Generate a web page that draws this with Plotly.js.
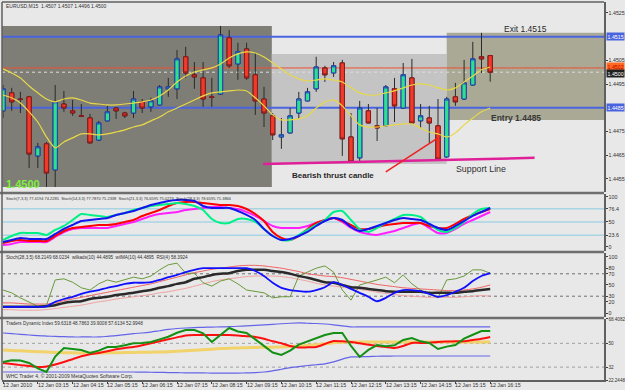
<!DOCTYPE html>
<html>
<head>
<meta charset="utf-8">
<script src="https://cdn.plot.ly/plotly-3.0.1.min.js"></script>
<style>
html,body{margin:0;padding:0;background:#e8e8e8;}
#chart{width:625px;height:390px;}
</style>
</head>
<body>
<div id="chart"></div>
<script>
// ---------- DATA ----------
const barIndex = Array.from({length:57}, (_, i) => i);
const tickBars = [0,4,8,12,16,20,24,28,32,36,40,44,48,52,56];
const tickLabels = ["12 Jan 2010","12 Jan 03:15","12 Jan 04:15","12 Jan 05:15","12 Jan 06:15","12 Jan 07:15","12 Jan 08:15","12 Jan 09:15","12 Jan 10:15","12 Jan 11:15","12 Jan 12:15","12 Jan 13:15","12 Jan 14:15","12 Jan 15:15","12 Jan 16:15"];

const openP = [1.44837,1.44913,1.44887,1.44896,1.44647,1.44698,1.44588,1.44866,1.44837,1.44816,1.44807,1.44714,1.44795,1.44849,1.44828,1.44828,1.44875,1.44854,1.44862,1.4493,1.4493,1.45065,1.44989,1.44976,1.44896,1.44908,1.45145,1.45035,1.45098,1.44989,1.44887,1.44816,1.44727,1.44744,1.44828,1.44879,1.4493,1.45018,1.44997,1.45039,1.44727,1.44639,1.44837,1.44774,1.44774,1.4493,1.44849,1.44976,1.44795,1.44807,1.44774,1.44643,1.44896,1.44887,1.44946,1.45065,1.4507];
const highP = [1.44946,1.44934,1.44917,1.449,1.44702,1.44706,1.44946,1.44921,1.44883,1.44866,1.44824,1.44795,1.44858,1.44854,1.44833,1.44921,1.44887,1.44892,1.44946,1.44976,1.45094,1.45107,1.45043,1.45043,1.44976,1.45195,1.45178,1.45124,1.45124,1.45081,1.44938,1.44828,1.44807,1.44849,1.44917,1.44934,1.45065,1.45027,1.45043,1.45052,1.44828,1.44879,1.44866,1.44849,1.44946,1.44976,1.45039,1.45056,1.44866,1.44858,1.44887,1.44896,1.44955,1.45052,1.45128,1.45166,1.4507];
const lowP  = [1.44807,1.44837,1.44828,1.44596,1.44596,1.44516,1.44516,1.44833,1.44816,1.44811,1.447,1.4471,1.44793,1.44803,1.44807,1.44807,1.44828,1.44833,1.4486,1.44896,1.44887,1.44976,1.4493,1.44854,1.44854,1.44904,1.45018,1.44968,1.44968,1.4482,1.44769,1.44714,1.44677,1.44742,1.44803,1.44877,1.44917,1.44959,1.4498,1.44647,1.4462,1.44622,1.44784,1.4471,1.44772,1.4479,1.44847,1.44784,1.44765,1.44702,1.44632,1.44639,1.44858,1.44883,1.44944,1.44997,1.4496];
const closeP= [1.4493,1.44875,1.44885,1.44655,1.44685,1.44575,1.44875,1.44849,1.44828,1.44814,1.44702,1.44786,1.44833,1.44837,1.44816,1.44887,1.44849,1.44879,1.44938,1.44938,1.45056,1.44997,1.4498,1.44887,1.44894,1.45157,1.45027,1.45086,1.44976,1.44879,1.44828,1.44736,1.44736,1.44816,1.44887,1.44917,1.45022,1.44989,1.45027,1.44719,1.44622,1.44849,1.44786,1.44765,1.44938,1.44858,1.44989,1.44786,1.44816,1.44786,1.44634,1.44887,1.44875,1.44955,1.45056,1.45056,1.45];

const maUpper = [1.45014,1.44997,1.44976,1.44942,1.44913,1.44887,1.44875,1.44887,1.44892,1.44883,1.4487,1.44866,1.44862,1.44862,1.44866,1.4487,1.44875,1.44883,1.449,1.44925,1.44959,1.44984,1.45001,1.4501,1.45018,1.45035,1.4506,1.45077,1.45086,1.45081,1.45064,1.45039,1.45014,1.44989,1.44972,1.44963,1.44967,1.44972,1.44967,1.44959,1.44934,1.44913,1.44904,1.44904,1.44913,1.44921,1.44934,1.44946,1.44951,1.44946,1.44934,1.44925,1.44934,1.44959,1.44984,1.4501,1.45022];
const maLower = [1.44904,1.44892,1.4487,1.44833,1.4479,1.44727,1.44681,1.44706,1.44723,1.4474,1.4474,1.44736,1.4474,1.44748,1.44757,1.44769,1.44778,1.44795,1.44811,1.44833,1.44849,1.44866,1.44883,1.449,1.44913,1.44917,1.44921,1.44925,1.44921,1.44892,1.44858,1.4482,1.44799,1.44799,1.44803,1.44816,1.44849,1.44875,1.44883,1.44858,1.44816,1.44778,1.44769,1.44769,1.44774,1.44778,1.44782,1.44782,1.44765,1.44748,1.4474,1.44727,1.44744,1.44778,1.44807,1.44833,1.44849];

const priceTicks = [1.4455,1.4465,1.4475,1.4495,1.4505,1.4525];
const exitLevel = 1.4515, entryLevel = 1.4485, redLevel = 1.45018, bidLevel = 1.4500;
const rangeBox = {x0:-0.2, x1:30.9, y0:1.44516, y1:1.45195};
const consolBox = {x0:30.9, x1:51.0, y0:1.44613, y1:1.45077};
const targetBox = {x0:51.0, x1:69.2, y0:1.44799, y1:1.45166};
const supportLine = {x0:29.9, y0:1.44613, x1:61.1, y1:1.44639};
const pointerLine = {x0:44.0, y0:1.4458, x1:50.0, y1:1.44723};

// Stochastics panel
const stoch7  = [14,22,28,28,28,24,34,42,54,66,64,62,60,64,68,74,78,82,84,86,88,86,82,74,56,48,48,56,56,50,36,22,14,14,24,34,44,54,70,72,54,36,30,38,48,56,64,64,60,46,34,30,38,50,66,76,78];
const stoch14 = [10,14,18,16,16,16,26,36,44,52,54,56,58,64,68,72,78,84,88,92,94,94,92,82,78,78,78,72,64,54,36,22,14,16,22,30,42,52,58,54,40,32,36,42,48,54,58,56,54,46,38,34,42,52,62,70,78];
const stoch21 = [8,12,14,12,12,12,22,32,38,40,42,44,44,46,50,54,62,68,74,82,88,90,90,88,86,84,84,82,76,66,52,30,18,14,22,36,48,54,58,52,44,36,36,40,44,46,48,48,48,42,38,38,46,56,64,70,76];
const stoch28 = [4,6,10,10,10,10,20,30,36,38,38,38,38,42,46,50,56,62,66,68,70,74,76,78,80,80,78,76,70,62,52,42,38,38,38,42,48,54,58,50,38,30,26,24,28,32,38,44,48,38,28,28,36,46,54,62,70];
const stochLevels = [23.6,50,76.4];

// Panel 3
const stochSlow = [11,11,11,11,11,12,20,25,29,34,38,41,45,48,52,54,54,55,59,64,68,73,77,80,80,80,80,80,80,75,66,54,45,41,39,38,41,46,55,50,43,36,29,21,27,36,41,41,39,34,29,32,38,45,57,66,71];
const stochMA   = [11,11,11,11,11,12,14,18,20,21,25,27,29,32,34,36,39,41,45,48,52,55,61,64,68,70,71,75,77,77,77,75,73,70,66,63,59,55,54,50,46,45,43,41,39,38,38,38,38,36,36,36,36,38,39,41,43];
const rsi4      = [41,36,27,20,12,14,59,61,55,45,41,52,59,55,59,64,61,66,77,86,89,71,71,54,48,57,61,52,41,38,36,27,29,29,66,73,80,84,73,41,23,50,54,59,64,54,68,52,41,34,27,59,61,66,77,77,71];
const bandHigh  = [18,18,17,16,16,16,18,22,25,28,31,34,37,40,43,46,49,52,56,60,64,68,72,75,78,80,82,84,85,85,84,82,80,77,74,70,68,66,65,63,60,57,54,51,49,47,45,44,43,42,41,40,40,41,43,46,50];
const bandLow   = [6,6,5,5,5,6,8,10,12,14,17,20,22,25,27,29,31,33,36,38,41,44,48,52,56,59,61,63,65,66,66,66,65,63,60,57,53,50,48,46,44,42,40,37,35,33,31,30,29,28,28,28,28,29,30,31,30];
const p3Levels = [30,70];

// Traders Dynamic Index
const tdiUpper = [57.8,57.3,56.8,56.3,55.8,55.5,55.2,55.0,54.8,54.8,54.8,54.8,55.3,55.8,56.6,57.4,57.8,58.5,59.5,60.5,61.2,61.6,61.9,62.1,62.3,62.4,62.6,62.9,63.2,63.6,64.0,64.4,64.8,65.2,65.4,65.2,65.0,64.6,64.0,63.2,62.4,62.4,62.4,62.4,62.4,62.4,62.4,62.4,62.4,62.4,62.4,62.4,62.4,62.4,62.4,62.4,62.4];
const tdiLower = [28.3,28.3,28.3,28.3,28.3,28.3,28.3,28.3,28.3,28.3,28.3,28.3,28.3,28.3,28.3,28.3,28.2,28.1,28.0,27.9,27.8,27.7,27.6,27.6,27.5,27.5,27.5,27.5,27.6,27.9,28.3,29.2,30.4,31.6,32.4,33.2,33.8,34.5,35.9,38.0,39.7,39.8,40.0,40.2,40.3,40.4,40.4,40.4,40.4,40.4,40.4,40.4,40.4,40.4,40.4,40.4,40.4];
const tdiBase  = [44.9,44.6,44.3,44.0,43.7,43.4,43.1,42.9,42.8,42.7,42.7,42.7,42.8,42.9,43.0,43.1,43.2,43.3,43.4,43.6,44.0,44.4,44.8,45.2,45.6,46.0,46.3,46.5,46.7,46.9,47.0,47.1,47.2,47.5,48.0,48.5,49.0,49.6,50.4,50.9,51.0,51.0,51.0,51.0,51.0,51.0,51.0,51.0,51.0,51.0,51.0,51.0,51.0,51.0,51.0,51.0,51.0];
const tdiSignal= [35.1,34.3,33.5,32.8,32.1,32.5,34.0,35.9,38.0,40.2,41.8,42.7,44.0,45.5,46.5,47.2,48.5,50.0,51.6,53.0,54.5,56.0,56.3,56.3,56.3,56.3,56.3,56.0,55.4,54.8,53.5,51.5,50.0,48.0,46.8,47.0,47.2,49.5,51.8,51.5,51.0,50.0,49.0,48.0,47.2,46.5,48.0,50.3,50.3,50.5,51.0,51.3,51.5,51.5,52.5,53.5,54.8];
const tdiPrice = [35.9,37.2,37.0,35.1,31.0,28.3,40.0,46.5,45.7,44.9,42.7,44.5,47.2,47.2,48.5,50.0,50.3,51.0,53.0,55.0,58.0,60.1,60.1,57.5,51.0,56.0,61.6,59.0,57.8,53.0,48.0,43.0,41.2,44.5,49.0,51.5,54.0,56.3,57.8,57.8,48.0,39.7,45.0,48.7,47.8,48.5,52.5,54.0,51.5,50.3,45.7,47.5,48.7,53.5,56.5,59.3,59.3];
const tdiTicks = [22.2448,32,50,68.4082];
const tdiLevels = [32,50];

// ---------- TRACES ----------
const X0 = -0.115, X1 = 69.08;
const bodyHigh = openP.map((o,i)=>Math.max(o,closeP[i]));
const bodyLow  = openP.map((o,i)=>Math.min(o,closeP[i]));
const lineTr = (y, ya, color, w) => ({type:'scatter', mode:'lines', x:barIndex, y:y, yaxis:ya, xaxis:'x',
  line:{color:color, width:w, shape:'spline', smoothing:0.6}, hoverinfo:'skip', showlegend:false});

const traces = [
  {type:'candlestick', x:barIndex, open:openP, high:highP, low:lowP, close:closeP, xaxis:'x', yaxis:'y',
   increasing:{line:{color:'#2a2a2a', width:1}, fillcolor:'#2ee08a'},
   decreasing:{line:{color:'#2a2a2a', width:1}, fillcolor:'#f23a2a'}, whiskerwidth:0, showlegend:false, hoverinfo:'skip'},
  {type:'candlestick', x:barIndex, open:openP, high:bodyHigh, low:bodyLow, close:closeP, xaxis:'x', yaxis:'y',
   increasing:{line:{color:'#2040c0', width:1}, fillcolor:'#2ee08a'},
   decreasing:{line:{color:'#8a1a1a', width:1}, fillcolor:'#f23a2a'}, whiskerwidth:0, showlegend:false, hoverinfo:'skip'},
  lineTr(maUpper,'y','#e8d848',1.2),
  lineTr(maLower,'y','#e8d848',1.2),

  lineTr(stoch28,'y2','#ff20ff',2),
  lineTr(stoch21,'y2','#ff0000',2),
  lineTr(stoch7,'y2','#00f088',2),
  lineTr(stoch14,'y2','#1414f0',2),

  lineTr(bandHigh,'y3','#f06060',1),
  lineTr(bandLow,'y3','#f0a0a0',1),
  {type:'scatter', mode:'lines', x:barIndex, y:rsi4, yaxis:'y3', xaxis:'x', line:{color:'#6a9a3a', width:1}, hoverinfo:'skip', showlegend:false},
  lineTr(stochMA,'y3','#2a2a2a',2.5),
  lineTr(stochSlow,'y3','#1010ff',1.8),

  lineTr(tdiUpper,'y4','#6464e8',1.2),
  lineTr(tdiLower,'y4','#6464e8',1.2),
  lineTr(tdiBase,'y4','#f2d26a',3),
  lineTr(tdiSignal,'y4','#ff1010',2),
  {type:'scatter', mode:'lines', x:barIndex, y:tdiPrice, yaxis:'y4', xaxis:'x', line:{color:'#149014', width:2}, hoverinfo:'skip', showlegend:false}
];

// ---------- SHAPES ----------
const shapes = [];
const rect = (b, fill) => shapes.push({type:'rect', xref:'x', yref:'y', x0:b.x0, x1:b.x1, y0:b.y0, y1:b.y1, fillcolor:fill, line:{width:0}, layer:'below'});
rect(rangeBox, '#7e7e76');
rect(consolBox, '#c4c4c4');
rect(targetBox, '#a9a996');
const hline = (lvl, ya, color, w, dash) => shapes.push({type:'line', xref:'x', yref:ya, x0:X0, x1:X1, y0:lvl, y1:lvl, line:{color:color, width:w, dash:dash||'solid'}, layer:'below'});
hline(exitLevel,'y','#4a64e0',2);
hline(entryLevel,'y','#4a64e0',2);
hline(redLevel,'y','#f05030',1);
hline(bidLevel,'y','#dcdcdc',1,'dot');
stochLevels.forEach(l=>hline(l,'y2','#a8d4e4',1.5));
p3Levels.forEach(l=>hline(l,'y3','#707070',1,'dot'));
tdiLevels.forEach(l=>hline(l,'y4','#a0a0a0',1,'dot'));
shapes.push({type:'line', xref:'x', yref:'y', x0:supportLine.x0, y0:supportLine.y0, x1:supportLine.x1, y1:supportLine.y1, line:{color:'#e0209a', width:2.5}});
shapes.push({type:'line', xref:'x', yref:'y', x0:pointerLine.x0, y0:pointerLine.y0, x1:pointerLine.x1, y1:pointerLine.y1, line:{color:'#f02020', width:1.5}});
// panel separators / frame
[0.4947,0.3386,0.164].forEach(p=>shapes.push({type:'line', xref:'paper', yref:'paper', x0:-0.01, x1:1, y0:p, y1:p, line:{color:'#6e6e6e', width:2.5}}));
shapes.push({type:'line', xref:'paper', yref:'paper', x0:0, x1:0, y0:0, y1:1, line:{color:'#606060', width:1.5}});
shapes.push({type:'line', xref:'paper', yref:'paper', x0:0, x1:1, y0:1, y1:1, line:{color:'#606060', width:1.5}});

// ---------- ANNOTATIONS ----------
const F = 'Liberation Sans, Arial, sans-serif';
const sm = (s) => ({family:F, size:s, color:'#303030'});
const ann = [];
const txt = (x, y, t, font, xa) => ann.push({xref:'paper', yref:'paper', x:x, y:y, text:t, showarrow:false, xanchor:xa||'left', yanchor:'middle', font:font});
txt(0.004, 0.989, 'EURUSD,M15  1.4507 1.4507 1.4496 1.4500', sm(5));
txt(0.003, 0.479, 'Stoch(7,3,3) 77.4194 74.2285  Stoch(14,3,3) 77.7870 75.2338  Stoch(21,3,3) 76.6595 75.0273  Stoch(28,3,3) 78.6595 71.3866', sm(4));
txt(0.003, 0.323, 'Stoch(28,3,5) 68.2149 68.0234  wilkads(10) 44.4895  wilMA(10) 44.4895  RSI(4) 58.3924', sm(4.6));
txt(0.003, 0.150, 'Traders Dynamic Index 59.6318 48.7863 39.9008 57.6134 52.9948', sm(4.6));
txt(0.003, 0.011, 'WHC Trader 4, © 2001-2009 MetaQuotes Software Corp.', sm(5));

txt(0.869, 0.928, 'Exit 1.4515', {family:F, size:8.5, color:'#282828'}, 'center');
txt(0.854, 0.693, '<b>Entry 1.4485</b>', {family:F, size:8.5, color:'#383838'}, 'center');
txt(0.550, 0.540, '<b>Bearish thrust candle</b>', {family:F, size:8, color:'#282828'}, 'center');
txt(0.796, 0.558, 'Support Line', {family:F, size:8.8, color:'#303030'}, 'center');
txt(0.003, 0.519, '<b>1.4500</b>', {family:F, size:11, color:'#80f040'}, 'left');

// axis boxes
const boxLbl = (lvl, t, bg, fg) => ann.push({xref:'paper', yref:'y', x:1.004, y:lvl, text:t, showarrow:false, xanchor:'left', yanchor:'middle',
  font:{family:F, size:5.3, color:fg}, bgcolor:bg, borderpad:0.5});
boxLbl(exitLevel, '1.4515', '#4a64e0', '#ffffff');
boxLbl(entryLevel, '1.4485', '#4a64e0', '#ffffff');
boxLbl(redLevel+0.00004, '1.4502', '#ff6a20', '#c00000');
boxLbl(bidLevel-0.00006, '1.4500', '#202020', '#ffffff');

// date labels
tickBars.forEach((b,i)=>ann.push({xref:'x', yref:'paper', x:b, y:-0.0135, text:tickLabels[i], showarrow:false, xanchor:'left', yanchor:'middle', xshift:-2, font:sm(5.3)}));

// ---------- LAYOUT ----------
const yBase = {side:'right', anchor:'x', showgrid:false, zeroline:false, ticks:'outside', ticklen:2, tickcolor:'#404040',
  tickfont:{family:F, size:5.3, color:'#303030'}, showline:true, linecolor:'#606060', linewidth:1.5, fixedrange:true};
const layout = {
  width:625, height:390,
  margin:{l:2, r:21, t:2, b:10, pad:0},
  paper_bgcolor:'#e8e8e8', plot_bgcolor:'#e8e8e8',
  showlegend:false,
  xaxis:{domain:[0,1], range:[X0,X1], anchor:'y4', showgrid:false, zeroline:false, tickvals:tickBars, showticklabels:false,
    ticks:'outside', ticklen:2, tickcolor:'#404040', showline:true, linecolor:'#606060', linewidth:1.5, rangeslider:{visible:false}, fixedrange:true},
  yaxis: Object.assign({}, yBase, {domain:[0.4974,1], range:[1.44495,1.45296], tickvals:priceTicks, tickformat:'.4f'}),
  yaxis2:Object.assign({}, yBase, {domain:[0.3413,0.4921], range:[-8,106], tickvals:[0,23.6,50,76.4,100], ticktext:['0','23.6','50','76.4','100']}),
  yaxis3:Object.assign({}, yBase, {domain:[0.1667,0.336], range:[-7.1,107.1], tickvals:[0,20,30,50,70,80,100]}),
  yaxis4:Object.assign({}, yBase, {domain:[0,0.1614], range:[22.2448,68.4082], tickvals:tdiTicks, ticktext:['22.2448','32','50','68.4082'],
    tickfont:{family:F, size:4.6, color:'#303030'}}),
  shapes:shapes,
  annotations:ann
};
Plotly.newPlot('chart', traces, layout, {displayModeBar:false, staticPlot:true});
</script>
</body>
</html>
